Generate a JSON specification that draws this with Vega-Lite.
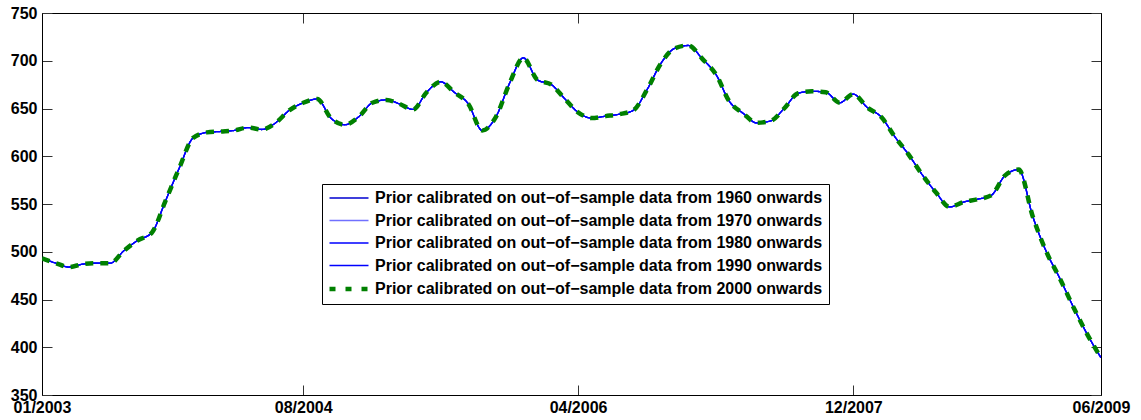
{
  "$schema": "https://vega.github.io/schema/vega-lite/v6.json",
  "width": 1059,
  "height": 382,
  "autosize": {"type": "none"},
  "padding": {"left": 42, "top": 13, "right": 40, "bottom": 25},
  "background": "white",
  "config": {
    "view": {"stroke": null},
    "axis": {
      "labelFont": "Liberation Sans",
      "labelFontWeight": "bold",
      "labelFontSize": 16,
      "labelColor": "black",
      "domainColor": "black",
      "domainWidth": 1,
      "tickColor": "#333333",
      "tickWidth": 1,
      "tickSize": -10,
      "grid": false,
      "title": null
    },
    "legend": {
      "labelFont": "Liberation Sans",
      "labelFontWeight": "bold",
      "labelFontSize": 16,
      "labelColor": "black",
      "labelLimit": 0
    }
  },
  "data": {
    "values": [
      {"date": "2003-01-01", "p1960": 493, "p1970": 493, "p1980": 493, "p1990": 493, "p2000": 493},
      {"date": "2003-02-01", "p1960": 488, "p1970": 488, "p1980": 488, "p1990": 488, "p2000": 488},
      {"date": "2003-03-01", "p1960": 484, "p1970": 484, "p1980": 484, "p1990": 484, "p2000": 484},
      {"date": "2003-04-01", "p1960": 487, "p1970": 487, "p1980": 487, "p1990": 487, "p2000": 487},
      {"date": "2003-05-01", "p1960": 488, "p1970": 488, "p1980": 488, "p1990": 488, "p2000": 488},
      {"date": "2003-06-01", "p1960": 488, "p1970": 488, "p1980": 488, "p1990": 488, "p2000": 488},
      {"date": "2003-07-01", "p1960": 501, "p1970": 501, "p1980": 501, "p1990": 501, "p2000": 501},
      {"date": "2003-08-01", "p1960": 512, "p1970": 512, "p1980": 512, "p1990": 512, "p2000": 512},
      {"date": "2003-09-01", "p1960": 520, "p1970": 520, "p1980": 520, "p1990": 520, "p2000": 520},
      {"date": "2003-10-01", "p1960": 553, "p1970": 553, "p1980": 553, "p1990": 553, "p2000": 553},
      {"date": "2003-11-01", "p1960": 588, "p1970": 588, "p1980": 588, "p1990": 588, "p2000": 588},
      {"date": "2003-12-01", "p1960": 619, "p1970": 619, "p1980": 619, "p1990": 619, "p2000": 619},
      {"date": "2004-01-01", "p1960": 625, "p1970": 625, "p1980": 625, "p1990": 625, "p2000": 625},
      {"date": "2004-02-01", "p1960": 626, "p1970": 626, "p1980": 626, "p1990": 626, "p2000": 626},
      {"date": "2004-03-01", "p1960": 627, "p1970": 627, "p1980": 627, "p1990": 627, "p2000": 627},
      {"date": "2004-04-01", "p1960": 630, "p1970": 630, "p1980": 630, "p1990": 630, "p2000": 630},
      {"date": "2004-05-01", "p1960": 628, "p1970": 628, "p1980": 628, "p1990": 628, "p2000": 628},
      {"date": "2004-06-01", "p1960": 635, "p1970": 635, "p1980": 635, "p1990": 635, "p2000": 635},
      {"date": "2004-07-01", "p1960": 648, "p1970": 648, "p1980": 648, "p1990": 648, "p2000": 648},
      {"date": "2004-08-01", "p1960": 656, "p1970": 656, "p1980": 656, "p1990": 656, "p2000": 656},
      {"date": "2004-09-01", "p1960": 660, "p1970": 660, "p1980": 660, "p1990": 660, "p2000": 660},
      {"date": "2004-10-01", "p1960": 640, "p1970": 640, "p1980": 640, "p1990": 640, "p2000": 640},
      {"date": "2004-11-01", "p1960": 633, "p1970": 633, "p1980": 633, "p1990": 633, "p2000": 633},
      {"date": "2004-12-01", "p1960": 641, "p1970": 641, "p1980": 641, "p1990": 641, "p2000": 641},
      {"date": "2005-01-01", "p1960": 656, "p1970": 656, "p1980": 656, "p1990": 656, "p2000": 656},
      {"date": "2005-02-01", "p1960": 659, "p1970": 659, "p1980": 659, "p1990": 659, "p2000": 659},
      {"date": "2005-03-01", "p1960": 655, "p1970": 655, "p1980": 655, "p1990": 655, "p2000": 655},
      {"date": "2005-04-01", "p1960": 649, "p1970": 649, "p1980": 649, "p1990": 649, "p2000": 649},
      {"date": "2005-05-01", "p1960": 667, "p1970": 667, "p1980": 667, "p1990": 667, "p2000": 667},
      {"date": "2005-06-01", "p1960": 678, "p1970": 678, "p1980": 678, "p1990": 678, "p2000": 678},
      {"date": "2005-07-01", "p1960": 667, "p1970": 667, "p1980": 667, "p1990": 667, "p2000": 667},
      {"date": "2005-08-01", "p1960": 655, "p1970": 655, "p1980": 655, "p1990": 655, "p2000": 655},
      {"date": "2005-09-01", "p1960": 627, "p1970": 627, "p1980": 627, "p1990": 627, "p2000": 627},
      {"date": "2005-10-01", "p1960": 641, "p1970": 641, "p1980": 641, "p1990": 641, "p2000": 641},
      {"date": "2005-11-01", "p1960": 677, "p1970": 677, "p1980": 677, "p1990": 677, "p2000": 677},
      {"date": "2005-12-01", "p1960": 703, "p1970": 703, "p1980": 703, "p1990": 703, "p2000": 703},
      {"date": "2006-01-01", "p1960": 680, "p1970": 680, "p1980": 680, "p1990": 680, "p2000": 680},
      {"date": "2006-02-01", "p1960": 675, "p1970": 675, "p1980": 675, "p1990": 675, "p2000": 675},
      {"date": "2006-03-01", "p1960": 661, "p1970": 661, "p1980": 661, "p1990": 661, "p2000": 661},
      {"date": "2006-04-01", "p1960": 646, "p1970": 646, "p1980": 646, "p1990": 646, "p2000": 646},
      {"date": "2006-05-01", "p1960": 640, "p1970": 640, "p1980": 640, "p1990": 640, "p2000": 640},
      {"date": "2006-06-01", "p1960": 642, "p1970": 642, "p1980": 642, "p1990": 642, "p2000": 642},
      {"date": "2006-07-01", "p1960": 644, "p1970": 644, "p1980": 644, "p1990": 644, "p2000": 644},
      {"date": "2006-08-01", "p1960": 648, "p1970": 648, "p1980": 648, "p1990": 648, "p2000": 648},
      {"date": "2006-09-01", "p1960": 670, "p1970": 670, "p1980": 670, "p1990": 670, "p2000": 670},
      {"date": "2006-10-01", "p1960": 697, "p1970": 697, "p1980": 697, "p1990": 697, "p2000": 697},
      {"date": "2006-11-01", "p1960": 713, "p1970": 713, "p1980": 713, "p1990": 713, "p2000": 713},
      {"date": "2006-12-01", "p1960": 716, "p1970": 716, "p1980": 716, "p1990": 716, "p2000": 716},
      {"date": "2007-01-01", "p1960": 702, "p1970": 702, "p1980": 702, "p1990": 702, "p2000": 702},
      {"date": "2007-02-01", "p1960": 685, "p1970": 685, "p1980": 685, "p1990": 685, "p2000": 685},
      {"date": "2007-03-01", "p1960": 658, "p1970": 658, "p1980": 658, "p1990": 658, "p2000": 658},
      {"date": "2007-04-01", "p1960": 645, "p1970": 645, "p1980": 645, "p1990": 645, "p2000": 645},
      {"date": "2007-05-01", "p1960": 635, "p1970": 635, "p1980": 635, "p1990": 635, "p2000": 635},
      {"date": "2007-06-01", "p1960": 637, "p1970": 637, "p1980": 637, "p1990": 637, "p2000": 637},
      {"date": "2007-07-01", "p1960": 650, "p1970": 650, "p1980": 650, "p1990": 650, "p2000": 650},
      {"date": "2007-08-01", "p1960": 666, "p1970": 666, "p1980": 666, "p1990": 666, "p2000": 666},
      {"date": "2007-09-01", "p1960": 668, "p1970": 668, "p1980": 668, "p1990": 668, "p2000": 668},
      {"date": "2007-10-01", "p1960": 667, "p1970": 667, "p1980": 667, "p1990": 667, "p2000": 667},
      {"date": "2007-11-01", "p1960": 656, "p1970": 656, "p1980": 656, "p1990": 656, "p2000": 656},
      {"date": "2007-12-01", "p1960": 665, "p1970": 665, "p1980": 665, "p1990": 665, "p2000": 665},
      {"date": "2008-01-01", "p1960": 651, "p1970": 651, "p1980": 651, "p1990": 651, "p2000": 651},
      {"date": "2008-02-01", "p1960": 641, "p1970": 641, "p1980": 641, "p1990": 641, "p2000": 641},
      {"date": "2008-03-01", "p1960": 621, "p1970": 621, "p1980": 621, "p1990": 621, "p2000": 621},
      {"date": "2008-04-01", "p1960": 602, "p1970": 602, "p1980": 602, "p1990": 602, "p2000": 602},
      {"date": "2008-05-01", "p1960": 581, "p1970": 581, "p1980": 581, "p1990": 581, "p2000": 581},
      {"date": "2008-06-01", "p1960": 562, "p1970": 562, "p1980": 562, "p1990": 562, "p2000": 562},
      {"date": "2008-07-01", "p1960": 547, "p1970": 547, "p1980": 547, "p1990": 547, "p2000": 547},
      {"date": "2008-08-01", "p1960": 552, "p1970": 552, "p1980": 552, "p1990": 552, "p2000": 552},
      {"date": "2008-09-01", "p1960": 555, "p1970": 555, "p1980": 555, "p1990": 555, "p2000": 555},
      {"date": "2008-10-01", "p1960": 559, "p1970": 559, "p1980": 559, "p1990": 559, "p2000": 559},
      {"date": "2008-11-01", "p1960": 580, "p1970": 580, "p1980": 580, "p1990": 580, "p2000": 580},
      {"date": "2008-12-01", "p1960": 586, "p1970": 586, "p1980": 586, "p1990": 586, "p2000": 586},
      {"date": "2009-01-01", "p1960": 537, "p1970": 537, "p1980": 537, "p1990": 537, "p2000": 537},
      {"date": "2009-02-01", "p1960": 499, "p1970": 499, "p1980": 499, "p1990": 499, "p2000": 499},
      {"date": "2009-03-01", "p1960": 473, "p1970": 473, "p1980": 473, "p1990": 473, "p2000": 473},
      {"date": "2009-04-01", "p1960": 442, "p1970": 442, "p1980": 442, "p1990": 442, "p2000": 442},
      {"date": "2009-05-01", "p1960": 414, "p1970": 414, "p1980": 414, "p1990": 414, "p2000": 414},
      {"date": "2009-06-01", "p1960": 389, "p1970": 389, "p1980": 389, "p1990": 389, "p2000": 389}
    ]
  },
  "layer": [
    {
      "transform": [
        {"fold": ["p1960", "p1970", "p1980", "p1990"], "as": ["series", "value"]}
      ],
      "mark": {"type": "line", "strokeWidth": 1.3, "strokeCap": "butt", "strokeJoin": "round", "interpolate": "monotone", "clip": true},
      "encoding": {
        "x": {
          "field": "date",
          "type": "temporal",
          "scale": {
            "type": "utc",
            "domain": [
              {"year": 2003, "month": 1, "date": 1, "utc": true},
              {"year": 2009, "month": 6, "date": 1, "utc": true}
            ]
          },
          "axis": {
            "orient": "bottom",
            "format": "%m/%Y",
            "labelPadding": 14,
            "labelFlush": false,
            "labelOverlap": false,
            "values": [
              {"year": 2003, "month": 1, "date": 1, "utc": true},
              {"year": 2004, "month": 8, "date": 1, "utc": true},
              {"year": 2006, "month": 4, "date": 1, "utc": true},
              {"year": 2007, "month": 12, "date": 1, "utc": true},
              {"year": 2009, "month": 6, "date": 1, "utc": true}
            ]
          }
        },
        "y": {
          "field": "value",
          "type": "quantitative",
          "scale": {"domain": [350, 750], "nice": false, "zero": false},
          "axis": {"orient": "left", "values": [350, 400, 450, 500, 550, 600, 650, 700, 750], "labelPadding": 15, "labelFlush": false}
        },
        "color": {
          "field": "series",
          "type": "nominal",
          "scale": {
            "domain": ["p1960", "p1970", "p1980", "p1990", "p2000"],
            "range": ["#0000d0", "#7070ff", "#0000ff", "#0000ff", "#008000"]
          },
          "legend": {
            "orient": "none",
            "legendX": 280,
            "legendY": 171,
            "title": null,
            "symbolType": "stroke",
            "symbolSize": 1521,
            "symbolOffset": 13,
            "labelOffset": 18,
            "labelLimit": 0,
            "padding": 6,
            "rowPadding": 6.5,
            "strokeColor": "black",
            "fillColor": "white",
            "cornerRadius": 0,
            "labelExpr": "'Prior calibrated on out\u2212of\u2212sample data from ' + slice(datum.label, 1) + ' onwards'",
            "encode": {
              "symbols": {
                "update": {
                  "strokeWidth": {"signal": "datum.value === 'p2000' ? 4.5 : 1.3"},
                  "strokeCap": {"value": "butt"}
                }
              }
            }
          }
        },
        "strokeDash": {
          "field": "series",
          "type": "nominal",
          "scale": {
            "type": "ordinal",
            "domain": ["p1960", "p1970", "p1980", "p1990", "p2000"],
            "range": [[1, 0], [1, 0], [1, 0], [1, 0], [6, 10]]
          }
        }
      }
    },
    {
      "transform": [
        {"fold": ["p2000"], "as": ["series", "value"]}
      ],
      "mark": {"type": "line", "strokeWidth": 4.5, "strokeCap": "butt", "strokeJoin": "round", "interpolate": "monotone", "clip": true, "strokeDash": [8, 7]},
      "encoding": {
        "x": {"field": "date", "type": "temporal", "axis": null},
        "y": {"field": "value", "type": "quantitative", "axis": null},
        "color": {"field": "series", "type": "nominal"}
      }
    },
    {
      "mark": {"type": "point", "opacity": 0},
      "encoding": {
        "x": {
          "field": "date",
          "type": "temporal",
          "axis": {
            "orient": "top",
            "labels": false,
            "values": [
              {"year": 2003, "month": 1, "date": 1, "utc": true},
              {"year": 2004, "month": 8, "date": 1, "utc": true},
              {"year": 2006, "month": 4, "date": 1, "utc": true},
              {"year": 2007, "month": 12, "date": 1, "utc": true},
              {"year": 2009, "month": 6, "date": 1, "utc": true}
            ]
          }
        },
        "y": {
          "field": "p1960",
          "type": "quantitative",
          "axis": {"orient": "right", "labels": false, "values": [350, 400, 450, 500, 550, 600, 650, 700, 750]}
        }
      }
    }
  ],
  "resolve": {"axis": {"x": "independent", "y": "independent"}}
}
